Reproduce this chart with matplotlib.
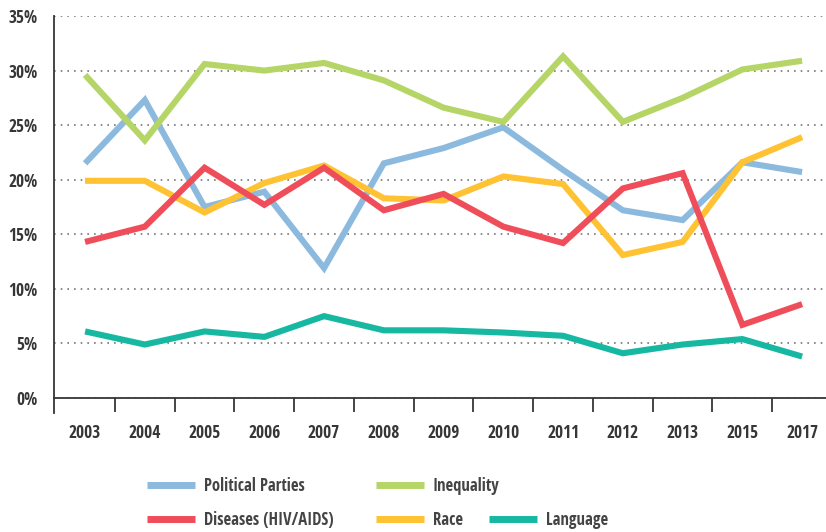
import matplotlib.pyplot as plt
from matplotlib.lines import Line2D
from matplotlib.ticker import FuncFormatter

# survey years (categorical axis, 2014 and 2016 missing)
years = ['2003', '2004', '2005', '2006', '2007', '2008', '2009',
         '2010', '2011', '2012', '2013', '2015', '2017']

# share of respondents (%)
political_parties = [21.5, 27.3, 17.5, 18.9, 11.9, 21.5, 22.9, 24.8, 20.9, 17.2, 16.3, 21.6, 20.7]
inequality = [29.6, 23.6, 30.6, 30.0, 30.7, 29.1, 26.6, 25.3, 31.3, 25.3, 27.5, 30.1, 30.9]
race = [19.9, 19.9, 17.0, 19.7, 21.3, 18.3, 18.1, 20.3, 19.6, 13.1, 14.3, 21.6, 23.9]
diseases = [14.3, 15.7, 21.1, 17.7, 21.1, 17.2, 18.7, 15.7, 14.2, 19.2, 20.6, 6.7, 8.6]
language = [6.1, 4.9, 6.1, 5.6, 7.5, 6.2, 6.2, 6.0, 5.7, 4.1, 4.9, 5.4, 3.8]

colors = {
    'Political Parties': '#8cbade',
    'Inequality': '#b6d567',
    'Race': '#ffc233',
    'Diseases (HIV/AIDS)': '#f04d5a',
    'Language': '#16b8a2',
}

plt.rcParams['font.family'] = ['Open Sans Condensed', 'DejaVu Sans']
text_color = '#363636'

fig = plt.figure(figsize=(8.26, 5.32), dpi=100)
ax = fig.add_axes([54 / 826, 134 / 532, 772 / 826, 382 / 532])

x = list(range(len(years)))
series = [('Political Parties', political_parties),
          ('Inequality', inequality),
          ('Race', race),
          ('Diseases (HIV/AIDS)', diseases),
          ('Language', language)]
handles = {}
for name, vals in series:
    ln, = ax.plot(x, vals, color=colors[name], lw=4.4,
                  solid_joinstyle='miter', solid_capstyle='butt', label=name)
    handles[name] = ln

ax.set_xlim(-0.52, 12.4)
ax.set_ylim(0, 35)
ax.set_yticks(range(0, 36, 5))
ax.yaxis.set_major_formatter(FuncFormatter(lambda v, p: f'{int(v)}%'))
ax.set_xticks(x)
ax.set_xticklabels(years)
ax.set_xticks([i + 0.5 for i in range(len(years) - 1)], minor=True)

ax.tick_params(axis='x', which='major', length=0, pad=19, labelsize=12.5,
               labelcolor=text_color)
ax.tick_params(axis='x', which='minor', length=10, width=1.3, color=text_color,
               direction='out')
ax.tick_params(axis='y', length=0, pad=12, labelsize=12.5, labelcolor=text_color)
for lab in ax.get_xticklabels() + ax.get_yticklabels():
    lab.set_fontweight('bold')

ax.yaxis.grid(True, linestyle=(0, (1, 3)), color='#777777', linewidth=1.2)
ax.set_axisbelow(True)
for s in ['top', 'right']:
    ax.spines[s].set_visible(False)
for s in ['left', 'bottom']:
    ax.spines[s].set_color(text_color)
    ax.spines[s].set_linewidth(1.3)
# left spine runs a little below the x axis
ax.plot([0, 0], [0, -15 / 382], transform=ax.transAxes, color=text_color,
        lw=1.3, clip_on=False)

def make_legend(items, xpos):
    leg = fig.legend(items, [h.get_label() for h in items], loc='upper left',
                     bbox_to_anchor=(xpos, 0.103), frameon=False,
                     prop={'size': 12, 'weight': 'light'},
                     handlelength=2.9, handletextpad=0.5, labelspacing=0.95,
                     borderpad=0, borderaxespad=0, labelcolor='#444444')
    for lh in leg.get_lines():
        lh.set_linewidth(5)
    return leg

blank = Line2D([], [], linestyle='none', label=' ')
make_legend([handles['Political Parties'], handles['Diseases (HIV/AIDS)']], 147 / 826)
make_legend([handles['Inequality'], handles['Race']], 376 / 826)
make_legend([blank, handles['Language']], 489 / 826)

fig.savefig('out.png', dpi=100)
